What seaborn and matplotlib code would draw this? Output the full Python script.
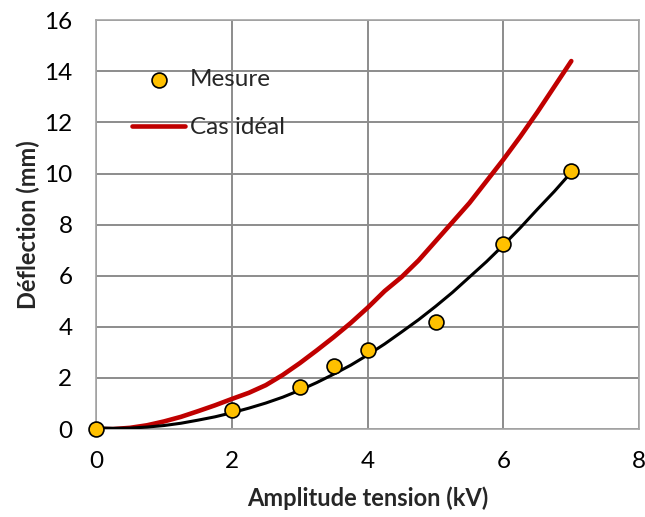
import numpy as np
import seaborn as sns
import matplotlib.pyplot as plt

# measured deflection
mes_kv = [0, 2, 3, 3.5, 4, 5, 6, 7]
mes_mm = [0, 0.75, 1.65, 2.45, 3.1, 4.2, 7.25, 10.1]

fit_kv = [0, 0.25, 0.5, 0.75, 1, 1.25, 1.5, 1.75, 2, 2.25, 2.5, 2.75, 3, 3.25, 3.5, 3.75,
          4, 4.25, 4.5, 4.75, 5, 5.25, 5.5, 5.75, 6, 6.25, 6.5, 6.75, 7]
fit_mm = [0.05, 0.03, 0.04, 0.08, 0.14, 0.23, 0.35, 0.48, 0.64, 0.82, 1.02, 1.25, 1.52, 1.82,
          2.15, 2.5, 2.9, 3.33, 3.8, 4.28, 4.8, 5.35, 5.95, 6.55, 7.2, 7.88, 8.6, 9.3, 10.05]

# ideal case
ideal_kv = [0, 0.25, 0.5, 0.75, 1, 1.25, 1.5, 1.75, 2, 2.25, 2.5, 2.75, 3, 3.25, 3.5, 3.75,
            4, 4.25, 4.5, 4.75, 5, 5.25, 5.5, 5.75, 6, 6.25, 6.5, 6.75, 7]
ideal_mm = [0, 0.0, 0.05, 0.15, 0.3, 0.48, 0.7, 0.93, 1.18, 1.42, 1.72, 2.12, 2.58, 3.08,
            3.6, 4.15, 4.75, 5.4, 5.95, 6.6, 7.35, 8.1, 8.85, 9.7, 10.55, 11.45, 12.4, 13.4, 14.4]

sns.set_style("white")
plt.rcParams['font.family'] = ['Lato', 'DejaVu Sans']

fig = plt.figure(figsize=(6.45, 5.17), dpi=100)
ax = fig.add_axes([0.149, 0.170, 0.842, 0.791])

sns.lineplot(x=ideal_kv, y=ideal_mm, ax=ax, color='#C00000', linewidth=3.3,
             label='Cas idéal', solid_capstyle='round', zorder=3)
sns.lineplot(x=fit_kv, y=fit_mm, ax=ax, color='black', linewidth=2.2, zorder=4)
sns.scatterplot(x=mes_kv, y=mes_mm, ax=ax, color='#FFC000', edgecolor='black',
                linewidth=1.2, s=115, label='Mesure', zorder=5, clip_on=False)

ax.set_xlim(0, 8)
ax.set_ylim(0, 16)
ax.set_xticks(range(0, 9, 2))
ax.set_yticks(range(0, 17, 2))
ax.grid(True, color='#8c8c8c', linewidth=1.4)
ax.set_axisbelow(True)
for sp in ax.spines.values():
    sp.set_color('#a6a6a6')
    sp.set_linewidth(1.2)
ax.tick_params(axis='both', labelsize=17.5, length=0, colors='black')
ax.tick_params(axis='x', pad=16)
ax.tick_params(axis='y', pad=17)
ax.set_xlabel('Amplitude tension (kV)', fontsize=17, fontweight='bold', labelpad=10)
ax.set_ylabel('Déflection (mm)', fontsize=17, fontweight='bold', labelpad=3)

h, l = ax.get_legend_handles_labels()
order = [l.index('Mesure'), l.index('Cas idéal')]
leg = ax.legend([h[i] for i in order], [l[i] for i in order], loc='upper left',
                bbox_to_anchor=(0.066, 0.88), frameon=False, fontsize=17.5,
                handlelength=2.2, handletextpad=0.17, labelspacing=1.12, borderpad=0,
                borderaxespad=0)

fig.savefig('out.png', dpi=100)
